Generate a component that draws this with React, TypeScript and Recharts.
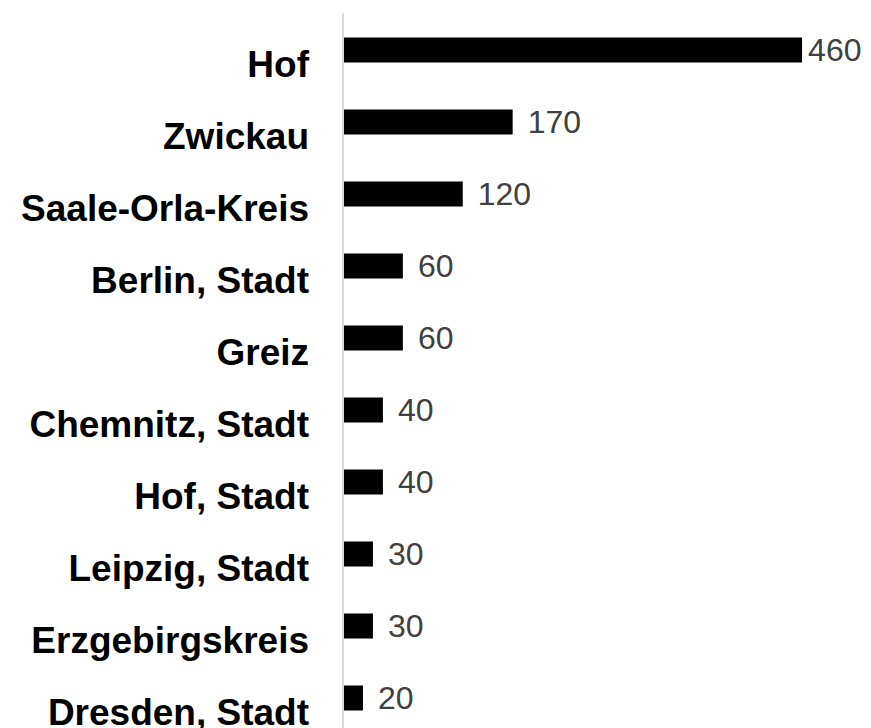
import { BarChart, Bar, XAxis, YAxis, LabelList } from 'recharts';

const regions = [
  'Hof',
  'Zwickau',
  'Saale-Orla-Kreis',
  'Berlin, Stadt',
  'Greiz',
  'Chemnitz, Stadt',
  'Hof, Stadt',
  'Leipzig, Stadt',
  'Erzgebirgskreis',
  'Dresden, Stadt',
];
const counts = [460, 170, 120, 60, 60, 40, 40, 30, 30, 20];
const xDomain = [0, 500];

const data = regions.map((region, i) => ({ region, count: counts[i] }));

const FONT = '"Liberation Sans", Arial, Helvetica, sans-serif';
const VALUE_SIZE = 32;
const LABEL_GAP = 15;
const RIGHT_LIMIT = 861;

// category labels sit a bit lower than the bar centre in the original
function CategoryTick(props: any) {
  const { x, y, payload } = props;
  return (
    <text
      x={x}
      y={y}
      dy={27}
      textAnchor="end"
      fontSize={37}
      fontWeight={700}
      fontFamily={FONT}
      fill="#000000"
    >
      {payload.value}
    </text>
  );
}

// value label right of the bar, pulled back in when it would run off the edge
function ValueLabel(props: any) {
  const { x, y, width, height, value } = props;
  const textW = String(value).length * 0.556 * VALUE_SIZE;
  let tx = x + width + LABEL_GAP;
  if (tx + textW > RIGHT_LIMIT) tx = Math.max(x + width + 6, RIGHT_LIMIT - textW);
  return (
    <text
      x={tx}
      y={y + height / 2}
      dy={VALUE_SIZE * 0.355}
      textAnchor="start"
      fontSize={VALUE_SIZE}
      fontFamily={FONT}
      fill="#404040"
    >
      {value}
    </text>
  );
}

export default function App() {
  return (
    <div style={{ position: 'fixed', left: 0, top: 0, width: 871, height: 728, overflow: 'hidden', background: '#fff' }}>
      <BarChart
        width={871}
        height={740}
        data={data}
        layout="vertical"
        margin={{ top: 13.5, right: 29, bottom: 6.5, left: 0 }}
        barSize={25}
      >
        <XAxis type="number" domain={xDomain} hide />
        <YAxis
          type="category"
          dataKey="region"
          width={343}
          tickLine={false}
          tickMargin={28}
          axisLine={{ stroke: '#d9d9d9', strokeWidth: 2 }}
          tick={<CategoryTick />}
          interval={0}
        />
        <Bar dataKey="count" fill="#000000" isAnimationActive={false}>
          <LabelList dataKey="count" content={<ValueLabel />} />
        </Bar>
      </BarChart>
    </div>
  );
}
